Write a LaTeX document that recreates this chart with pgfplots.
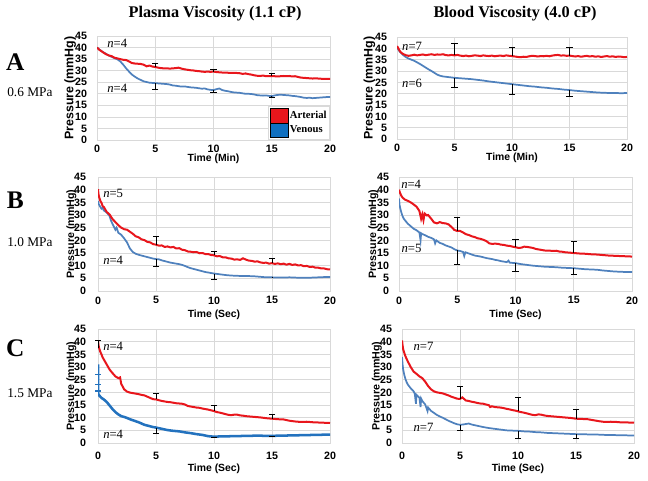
\documentclass[border=0pt]{standalone}
\usepackage{fontspec}
\setmainfont{Liberation Serif}
\setsansfont{Liberation Sans}
\usepackage{pgfplots}
\pgfplotsset{compat=1.18}
\definecolor{artred}{RGB}{232,22,28}
\definecolor{venblue}{RGB}{79,129,189}
\definecolor{venblue2}{RGB}{35,114,190}
\definecolor{legblue}{RGB}{16,112,192}
\definecolor{gridc}{RGB}{217,217,217}
\tikzset{nlab/.style={anchor=west, font=\fontsize{9.5}{10}\selectfont, inner sep=0pt}}
\pgfplotsset{
  panel/.style={
    scale only axis, anchor=south west,
    xmin=0, xmax=20, ymin=0, ymax=45,
    xtick={0,5,10,15,20}, ytick={0,5,...,45},
    grid=major, major grid style={gridc, line width=0.5pt},
    axis line style={gridc, line width=0.6pt},
    tick style={draw=none}, major tick length=0pt,
    /pgf/number format/assume math mode=true,
    ticklabel style={font=\sffamily\bfseries\fontsize{8}{9}\selectfont, text=black},
    yticklabel style={xshift=-4pt},
    ylabel={Pressure (mmHg)},
    ylabel style={at={(axis description cs:-0.115,0.5)}, anchor=center, rotate=0, font=\sffamily\bfseries\fontsize{8}{9}\selectfont},
    xlabel style={at={(axis description cs:0.5,0)}, anchor=center, font=\sffamily\bfseries\fontsize{7.8}{9}\selectfont},
  },
  art/.style={artred, line width=1.5pt, forget plot},
  ven/.style={venblue, line width=1.3pt, forget plot},
  ebbase/.style={black, line width=0.6pt, mark=none, draw opacity=0, forget plot},
  ebp/.style={ebbase,
    error bars/.cd, y dir=plus, y explicit, error mark=none,
    error bar style={draw=black, draw opacity=1, line width=0.6pt, solid}},
  ebm/.style={ebbase,
    error bars/.cd, y dir=minus, y explicit, error mark=none,
    error bar style={draw=black, draw opacity=1, line width=0.6pt, solid}},
  caps/.style={only marks, mark=-, mark size=2.3pt, black, forget plot,
    mark options={line width=0.6pt, draw=black, solid}},
}
\newcommand{\nn}[1]{\textit{n}=#1}
\begin{document}
\begin{tikzpicture}
\path[use as bounding box] (0,0) rectangle (486pt,-360pt);

% ---------------- A left
\begin{axis}[panel, at={(72.75pt,-105pt)}, width=174.75pt, height=78pt,
  xlabel={Time (Min)}, xlabel style={yshift=-14.25pt},
  ylabel style={font=\sffamily\bfseries\fontsize{9.3}{10}\selectfont},
  legend style={at={(rel axis cs:1,0)}, anchor=south east, draw=gridc, fill=white,
    font=\bfseries\fontsize{8}{9}\selectfont, inner sep=1.5pt, row sep=0pt,
    nodes={inner sep=0.8pt}},
  legend cell align=left,
  legend image code/.code={\fill[#1] (0pt,-5.3pt) rectangle (13.5pt,5.3pt);}]
\addplot[ven] coordinates {(0,40.0)(0.1,39.6)(0.2,39.2)(0.3,38.8)(0.5,38.1)(0.75,37.4)(1,36.6)(1.25,36.0)(1.5,35.4)(1.75,34.9)(2,34.0)(2.25,32.6)(2.5,31.0)(2.75,29.6)(3,28.3)(3.25,27.4)(3.5,26.6)(3.75,26.0)(4,25.4)(4.25,25.1)(4.5,24.8)(4.75,24.7)(5,24.6)(5.25,24.5)(5.5,24.4)(5.75,24.3)(6,24.2)(6.25,24.0)(6.5,23.6)(6.75,23.5)(7,23.3)(7.25,23.1)(7.5,23.2)(7.75,23.0)(8,22.8)(8.25,22.7)(8.5,22.6)(8.75,22.4)(9,22.2)(9.25,22.3)(9.5,21.9)(9.75,21.7)(10,21.6)(10.25,22.0)(10.5,22.3)(10.75,21.6)(11,21.3)(11.25,21.1)(11.5,20.8)(11.75,20.6)(12,20.5)(12.25,20.4)(12.5,20.2)(12.75,20.0)(13,20.0)(13.25,19.9)(13.5,19.7)(13.75,19.4)(14,19.3)(14.25,19.2)(14.5,19.3)(14.75,19.1)(15,19.0)(15.25,19.3)(15.5,19.5)(15.75,19.6)(16,19.5)(16.25,19.4)(16.5,19.3)(16.75,19.1)(17,19.0)(17.25,18.8)(17.5,18.6)(17.75,18.3)(18,18.2)(18.25,18.3)(18.5,18.1)(18.75,18.2)(19,18.3)(19.25,18.4)(19.5,18.5)(19.75,18.6)(20,18.6)};
\addplot[art] coordinates {(0,40.0)(0.1,39.5)(0.2,39.0)(0.3,38.7)(0.5,38.0)(0.75,37.2)(1,36.6)(1.25,36.3)(1.5,35.6)(1.75,35.3)(2,35.0)(2.25,34.7)(2.5,34.6)(2.75,34.0)(3,33.3)(3.25,33.1)(3.5,33.0)(3.75,32.9)(4,32.6)(4.25,31.9)(4.5,32.2)(4.75,31.8)(5,31.6)(5.25,31.3)(5.5,31.1)(5.75,31.0)(6,31.0)(6.25,30.9)(6.5,31.0)(6.75,31.1)(7,31.3)(7.25,30.9)(7.5,30.6)(7.75,30.4)(8,30.2)(8.25,30.1)(8.5,29.9)(8.75,29.8)(9,29.6)(9.25,29.5)(9.5,29.6)(9.75,29.5)(10,29.6)(10.25,29.4)(10.5,29.3)(10.75,29.2)(11,29.2)(11.25,29.1)(11.5,29.0)(11.75,29.1)(12,29.0)(12.25,28.9)(12.5,28.6)(12.75,28.8)(13,28.5)(13.25,28.3)(13.5,28.0)(13.75,27.8)(14,27.7)(14.25,27.9)(14.5,27.6)(14.75,27.6)(15,27.7)(15.25,27.6)(15.5,27.5)(15.75,27.6)(16,27.7)(16.25,27.6)(16.5,27.7)(16.75,27.5)(17,27.6)(17.25,27.3)(17.5,27.0)(17.75,26.9)(18,26.8)(18.25,26.7)(18.5,26.6)(18.75,26.7)(19,26.6)(19.25,26.5)(19.5,26.5)(19.75,26.4)(20,26.4)};
\addplot[ebp] coordinates {(5,31.6) +- (0,1.4) (10,29.6) +- (0,0.9) (15,27.7) +- (0,1.3)};
\addplot[ebm] coordinates {(5,24.6) +- (0,2.8) (10,21.6) +- (0,0.9) (15,19.0) +- (0,0.5)};
\addplot[caps] coordinates {(5,33.0)(10,30.5)(15,29.0)(5,21.8)(10,20.7)(15,18.5)};
\addlegendimage{fill=artred}\addlegendentry{Arterial}
\addlegendimage{fill=legblue}\addlegendentry{Venous}
\node[nlab] at (axis cs:0.86,42) {\nn{4}};
\node[nlab] at (axis cs:0.86,22.5) {\nn{4}};
\end{axis}

% ---------------- A right
\begin{axis}[panel, at={(297.75pt,-104.25pt)}, width=172.5pt, height=76.5pt,
  xlabel={Time (Min)}, xlabel style={yshift=-14.25pt},
  ylabel style={font=\sffamily\bfseries\fontsize{9.3}{10}\selectfont, at={(axis description cs:-0.12,0.5)}}]
\addplot[ven] coordinates {(0,40.5)(0.1,39.6)(0.2,38.8)(0.3,38.2)(0.5,37.2)(0.75,36.2)(1,35.5)(1.25,35)(1.5,34.5)(1.75,33.8)(2,33.1)(2.25,32.3)(2.5,31.5)(2.75,30.7)(3,30)(3.25,29.2)(3.5,28.4)(3.75,27.9)(4,27.6)(4.5,27.3)(5,27)(5.5,26.8)(6,26.6)(6.5,26.4)(7,26.1)(7.5,25.8)(8,25.4)(8.5,25.1)(9,24.8)(9.5,24.5)(10,24.2)(10.5,23.9)(11,23.6)(11.5,23.3)(12,23.1)(12.5,22.8)(13,22.6)(13.5,22.3)(14,22.1)(14.5,21.8)(15,21.6)(15.5,21.3)(16,21.1)(16.5,20.9)(17,20.7)(17.5,20.5)(18,20.4)(18.5,20.3)(19,20.3)(19.5,20.2)(20,20.3)};
\addplot[art] coordinates {(0,41)(0.1,40.2)(0.2,39.2)(0.3,38.4)(0.5,37.6)(0.75,37)(1,36.7)(1.25,36.9)(1.5,37.2)(1.75,36.9)(2,37.1)(2.25,37.3)(2.5,37)(2.75,37.2)(3,37.4)(3.25,37.1)(3.5,37.3)(3.75,37.2)(4,37.4)(4.25,37)(4.5,36.9)(4.75,37.1)(5,36.9)(5.25,37.1)(5.5,36.8)(5.75,36.6)(6,36.8)(6.25,36.5)(6.5,36.7)(6.75,36.9)(7,36.8)(7.25,36.6)(7.5,36.9)(7.75,36.7)(8,36.6)(8.25,36.8)(8.5,36.5)(8.75,36.7)(9,36.8)(9.25,36.6)(9.5,36.9)(9.75,36.7)(10,36.6)(10.25,36.4)(10.5,36.2)(10.75,36.1)(11,36.3)(11.25,36.2)(11.5,36.5)(11.75,36.7)(12,36.6)(12.25,36.4)(12.5,36.6)(12.75,36.5)(13,36.7)(13.25,36.5)(13.5,36.8)(13.75,37)(14,37.1)(14.25,36.8)(14.5,36.9)(14.75,36.7)(15,36.8)(15.25,36.6)(15.5,36.4)(15.75,36.6)(16,36.3)(16.25,36.5)(16.5,36.7)(16.75,36.4)(17,36.6)(17.25,36.3)(17.5,36.5)(17.75,36.2)(18,36.4)(18.25,36.6)(18.5,36.3)(18.75,36.5)(19,36.2)(19.25,36.4)(19.5,36.3)(19.75,36.1)(20,36.2)};
\addplot[ebp] coordinates {(5,36.9) +- (0,5.2) (10,36.6) +- (0,3.8) (15,36.8) +- (0,3.6)};
\addplot[ebm] coordinates {(5,27.0) +- (0,4.2) (10,24.2) +- (0,4.3) (15,21.6) +- (0,2.9)};
\addplot[caps] coordinates {(5,42.1)(10,40.4)(15,40.4)(5,22.8)(10,19.9)(15,18.7)};
\node[nlab] at (axis cs:0.43,40.7) {\nn{7}};
\node[nlab] at (axis cs:0.43,24.6) {\nn{6}};
\end{axis}

% ---------------- B left
\begin{axis}[panel, at={(73.5pt,-218.25pt)}, width=174pt, height=85.5pt,
  xlabel={Time (Sec)}, xlabel style={yshift=-18pt},
  xticklabel style={yshift=-0.7pt}, yticklabel style={xshift=-1.5pt}]
\addplot[ven] coordinates {(0,35.5)(0.05,34.5)(0.1,34)(0.2,33.2)(0.3,32.5)(0.4,32.8)(0.5,31.8)(0.75,31)(1,29.6)(1.1,28)(1.25,26.5)(1.5,24.2)(1.6,25)(1.75,23)(2,22.2)(2.25,20.8)(2.5,19.2)(2.75,16.8)(3,15.4)(3.25,14.7)(3.5,14.3)(3.75,14)(4,13.7)(4.25,13.4)(4.5,13.1)(4.75,12.8)(5,12.6)(5.25,12.5)(5.5,12.1)(5.75,11.8)(6,11.5)(6.25,11.2)(6.5,11)(6.75,10.8)(7,10.6)(7.25,10.3)(7.5,9.9)(7.75,9.4)(8,9)(8.25,8.7)(8.5,8.4)(8.75,8.1)(9,7.8)(9.25,7.5)(9.5,7.3)(9.75,7.1)(10,6.9)(10.5,6.6)(11,6.3)(11.5,6.1)(12,6)(12.5,5.9)(13,5.9)(13.5,5.8)(14,5.6)(14.5,5.4)(15,5.4)(15.5,5.3)(16,5.3)(16.5,5.4)(17,5.3)(17.5,5.2)(18,5.2)(18.5,5.3)(19,5.4)(19.5,5.5)(20,5.5)};
\addplot[art] coordinates {(0,40.2)(0.05,38)(0.1,37)(0.2,35.6)(0.3,34.8)(0.4,33.5)(0.5,33.2)(0.75,31.2)(1,30.2)(1.25,28.4)(1.5,27.2)(1.75,26)(2,25)(2.25,24.4)(2.5,24.2)(2.75,23.4)(3,22.6)(3.25,21.6)(3.5,21.2)(3.75,20.4)(4,20.1)(4.25,19.4)(4.5,19.2)(4.75,18.5)(5,18.3)(5.25,17.9)(5.5,18)(5.75,17.4)(6,17.6)(6.25,17.2)(6.5,17.4)(6.75,16.8)(7,16.9)(7.25,16.3)(7.5,16.1)(7.75,15.6)(8,15.5)(8.25,15.3)(8.5,15.4)(8.75,14.9)(9,15)(9.25,14.6)(9.5,14.6)(9.75,14.2)(10,14.1)(10.25,13.7)(10.5,13.8)(10.75,13.3)(11,13.3)(11.25,12.9)(11.5,12.8)(11.75,12.4)(12,12.5)(12.25,12.3)(12.5,12.9)(12.75,12.4)(13,12)(13.25,11.9)(13.5,11.6)(13.75,11.7)(14,11.3)(14.25,11.1)(14.5,11.2)(14.75,10.8)(15,11)(15.25,10.7)(15.5,10.9)(15.75,10.6)(16,10.8)(16.25,10.4)(16.5,10.7)(16.75,10.3)(17,10.5)(17.25,10.1)(17.5,10.2)(17.75,9.8)(18,9.9)(18.25,9.5)(18.5,9.6)(18.75,9.2)(19,9.2)(19.25,8.9)(19.5,8.9)(19.75,8.6)(20,8.5)};
\addplot[ebp] coordinates {(5,18.3) +- (0,3.4) (10,14.1) +- (0,1.6) (15,11.0) +- (0,1.7)};
\addplot[ebm] coordinates {(5,12.6) +- (0,2.8) (10,6.9) +- (0,2.2) (15,5.4) +- (0,0.2)};
\addplot[caps] coordinates {(5,21.7)(10,15.7)(15,12.7)(5,9.8)(10,4.7)};
\node[nlab] at (axis cs:0.43,38.6) {\nn{5}};
\node[nlab] at (axis cs:0.43,12.2) {\nn{4}};
\end{axis}

% ---------------- B right
\begin{axis}[panel, at={(299.25pt,-218.25pt)}, width=174.75pt, height=85.5pt,
  xlabel={Time (Sec)}, xlabel style={yshift=-18pt},
  xticklabel style={yshift=-0.7pt}, ylabel style={at={(axis description cs:-0.11,0.5)}}]
\addplot[ven] coordinates {(0,36.5)(0.05,34)(0.1,32.8)(0.2,31)(0.3,29.6)(0.4,28.6)(0.5,28)(0.75,26.6)(1,25.6)(1.25,24.6)(1.5,24)(1.75,23.1)(1.85,20)(1.9,22.8)(2,22.5)(2.25,22)(2.5,21.4)(2.75,21)(3,20.4)(3.1,18.8)(3.2,20)(3.5,19)(3.75,18.6)(4,18)(4.25,17.6)(4.5,17.2)(4.75,16.5)(5,16)(5.25,15.8)(5.5,15.4)(5.6,13.8)(5.7,15.3)(6,14.8)(6.25,14.4)(6.5,14)(6.75,13.8)(7,13.6)(7.25,13.3)(7.5,13)(7.75,12.8)(8,12.6)(8.25,12.3)(8.5,12.1)(8.75,11.8)(9,11.6)(9.25,11.4)(9.4,12)(9.5,11.2)(9.75,11.1)(10,11)(10.5,10.6)(11,10.3)(11.5,10)(12,9.8)(12.5,9.6)(13,9.5)(13.5,9.4)(14,9.2)(14.5,9.1)(15,9)(15.5,8.8)(16,8.6)(16.5,8.5)(17,8.4)(17.5,8.1)(18,7.9)(18.5,7.7)(19,7.6)(19.5,7.5)(20,7.5)};
\addplot[art] coordinates {(0,40)(0.1,38.6)(0.2,37.6)(0.3,36.9)(0.5,36.1)(0.75,35.6)(1,35)(1.25,34.2)(1.5,33.3)(1.75,31.6)(1.9,28.5)(2,30.2)(2.1,28)(2.2,30.6)(2.4,29.8)(2.5,30)(2.75,28.6)(3,27.1)(3.25,26.7)(3.5,27.2)(3.75,26.8)(4,26.7)(4.25,26.3)(4.5,25.3)(4.75,24.1)(5,23.7)(5.25,23.7)(5.5,23.1)(5.75,22.4)(6,22.1)(6.25,21.6)(6.5,21.3)(6.75,20.8)(7,20.6)(7.25,20.2)(7.5,19.7)(7.75,18.8)(8,18.6)(8.25,18.7)(8.5,18.6)(8.75,18.3)(9,18.2)(9.25,17.9)(9.5,17.8)(9.75,17.5)(10,17.3)(10.25,17)(10.5,17.1)(10.75,17.5)(11,17.4)(11.25,17.2)(11.5,17)(11.75,16.6)(12,16.4)(12.25,16.2)(12.5,16)(12.75,15.9)(13,15.9)(13.25,15.8)(13.5,15.9)(13.75,15.6)(14,15.5)(14.25,15.3)(14.5,15.2)(14.75,15.1)(15,15)(15.5,14.8)(16,14.7)(16.5,14.5)(17,14.4)(17.5,14.2)(18,14)(18.5,13.9)(19,13.8)(19.5,13.7)(20,13.6)};
\addplot[ebp] coordinates {(5,23.7) +- (0,5.5) (10,17.3) +- (0,3.1) (15,15.0) +- (0,4.6)};
\addplot[ebm] coordinates {(5,16.0) +- (0,5.5) (10,11.0) +- (0,3.4) (15,9.0) +- (0,2.4)};
\addplot[caps] coordinates {(5,29.2)(10,20.4)(15,19.6)(5,10.5)(10,7.6)(15,6.6)};
\node[nlab] at (axis cs:0.17,42.2) {\nn{4}};
\node[nlab] at (axis cs:0.2,16.9) {\nn{5}};
\end{axis}

% ---------------- C left
\begin{axis}[panel, at={(73.5pt,-332.25pt)}, width=174pt, height=85.5pt,
  xlabel={Time (Sec)}, xlabel style={yshift=-19.5pt},
  xticklabel style={yshift=-3.5pt}, yticklabel style={xshift=-1.5pt}]
\addplot[venblue2, line width=1.9pt, forget plot] coordinates {(0,31)(0.02,19.5)(0.1,18.8)(0.2,18.3)(0.3,17.8)(0.5,17.2)(0.75,16.2)(1,14.8)(1.25,13.4)(1.5,12.2)(1.75,11.3)(2,10.6)(2.25,10.3)(2.5,9.9)(2.75,9.4)(3,9)(3.25,8.6)(3.5,8.2)(3.75,7.7)(4,7.2)(4.25,6.9)(4.5,6.6)(4.75,6.3)(5,6.1)(5.5,5.6)(6,5.1)(6.5,4.8)(7,4.6)(7.5,4.2)(8,3.9)(8.5,3.5)(9,3.2)(9.5,2.7)(10,2.5)(10.5,2.6)(11,2.6)(11.5,2.7)(12,2.7)(12.5,2.8)(13,2.8)(13.5,2.9)(14,2.9)(14.5,2.8)(15,2.8)(15.5,2.9)(16,2.9)(16.5,3)(17,3)(17.5,3.1)(18,3.1)(18.5,3.2)(19,3.2)(19.5,3.3)(20,3.3)};
\addplot[only marks, mark=-, mark size=2.2pt, venblue2, forget plot, mark options={line width=0.9pt, solid}] coordinates {(0,27)(0,23)(0,20.5)};
\addplot[art] coordinates {(0,40.5)(0.05,38.5)(0.1,37.4)(0.2,36)(0.3,35)(0.4,33.8)(0.5,33)(0.75,31)(1,29)(1.25,27.6)(1.5,26.3)(1.75,25.6)(1.9,25.9)(2,23.4)(2.25,21.2)(2.5,20.3)(2.75,19.9)(3,19.7)(3.25,19.5)(3.5,19.3)(3.75,19)(4,18.8)(4.25,18.3)(4.5,17.8)(4.75,17.3)(5,17.2)(5.25,16.9)(5.5,16.6)(5.75,16.4)(6,16.2)(6.25,16.1)(6.5,15.9)(6.75,15.7)(7,15.6)(7.25,15.5)(7.5,15.2)(7.75,14.6)(8,14.4)(8.25,14.2)(8.5,14)(8.75,13.9)(9,13.6)(9.25,13.4)(9.5,13.2)(9.75,12.9)(10,12.6)(10.25,12.2)(10.5,12)(10.75,11.7)(11,11.4)(11.25,11.1)(11.5,11)(11.75,11.2)(12,11.2)(12.25,10.9)(12.5,10.8)(12.75,10.6)(13,10.5)(13.5,10.3)(14,10.1)(14.5,9.8)(15,9.6)(15.5,9.4)(16,9.3)(16.5,8.8)(17,8.5)(17.5,8.3)(18,8.4)(18.5,8.2)(19,8.1)(19.5,8)(20,7.9)};
\addplot[ebp] coordinates {(0,37.5) +- (0,3) (5,17.2) +- (0,2.3) (10,12.6) +- (0,2.1) (15,9.6) +- (0,1.6)};
\addplot[ebm] coordinates {(5,6.1) +- (0,2.2) (10,2.5) +- (0,0.3) (15,2.8) +- (0,0.3)};
\addplot[caps] coordinates {(0,40.5)(5,19.5)(10,14.7)(15,11.2)(5,3.9)(10,2.2)(15,2.5)};
\node[nlab] at (axis cs:0.43,38) {\nn{4}};
\node[nlab] at (axis cs:0.43,3.6) {\nn{4}};
\end{axis}

% ---------------- C right
\begin{axis}[panel, at={(301.5pt,-332.25pt)}, width=174pt, height=85.5pt,
  xlabel={Time (Sec)}, xlabel style={yshift=-19.5pt},
  xticklabel style={yshift=-3.5pt}, ylabel style={at={(axis description cs:-0.108,0.5)}}]
\addplot[ven] coordinates {(0,34)(0.05,31)(0.1,29)(0.2,26.8)(0.3,25.2)(0.4,24)(0.5,23.1)(0.75,21.6)(1,20.4)(1.1,19.5)(1.2,15.5)(1.25,19)(1.5,17.9)(1.6,14.2)(1.65,17.5)(1.75,16.6)(2,15.2)(2.2,12.6)(2.25,14)(2.5,12.7)(2.75,11.9)(3,11.1)(3.25,10.5)(3.5,10)(3.75,9.4)(4,8.8)(4.25,8.3)(4.5,7.8)(4.75,7.4)(5,7.2)(5.25,7.3)(5.5,7.5)(5.75,7.7)(6,7.3)(6.5,6.8)(7,6.3)(7.5,5.9)(8,5.6)(8.5,5.3)(9,5)(9.5,4.9)(10,4.8)(10.5,4.6)(11,4.5)(11.5,4.3)(12,4.2)(12.5,4)(13,3.9)(13.5,3.8)(14,3.7)(14.5,3.6)(15,3.5)(15.5,3.5)(16,3.4)(16.5,3.4)(17,3.3)(17.5,3.2)(18,3.2)(18.5,3.1)(19,3.1)(19.5,3)(20,3)};
\addplot[art] coordinates {(0,40.5)(0.05,38.5)(0.1,37)(0.2,35.5)(0.3,34.2)(0.4,33.2)(0.5,32.2)(0.75,30)(1,28.2)(1.25,27.3)(1.5,26.3)(1.75,25.6)(2,24.2)(2.25,22.5)(2.5,21.2)(2.75,20.4)(3,20)(3.25,19.8)(3.5,19.6)(3.75,19.2)(4,18.8)(4.25,18.3)(4.5,17.9)(4.75,17.5)(5,17.4)(5.2,18)(5.4,17.2)(5.5,16.8)(5.75,16.6)(6,16.3)(6.25,16.1)(6.5,15.8)(6.75,15.6)(7,15.5)(7.25,15.2)(7.5,14.9)(7.6,14.2)(7.75,14.5)(8,14.2)(8.25,14.1)(8.5,14)(8.75,13.8)(9,13.5)(9.25,13.3)(9.5,13)(9.75,12.8)(10,12.5)(10.25,12.2)(10.5,12)(10.75,11.7)(11,11.4)(11.25,11.1)(11.5,11)(11.75,11.3)(12,11.2)(12.25,10.9)(12.5,10.7)(12.75,10.6)(13,10.5)(13.5,10.3)(14,10.1)(14.5,9.9)(15,9.6)(15.5,9.5)(16,9.4)(16.5,9)(17,8.6)(17.5,8.3)(18,8.4)(18.5,8.3)(19,8.1)(19.5,8.1)(20,8)};
\addplot[ebp] coordinates {(5,17.4) +- (0,5.0) (10,12.5) +- (0,5.7) (15,9.6) +- (0,3.8)};
\addplot[ebm] coordinates {(5,7.2) +- (0,2.3) (10,4.8) +- (0,2.8) (15,3.5) +- (0,1.8)};
\addplot[caps] coordinates {(5,22.4)(10,18.2)(15,13.4)(5,4.9)(10,2.0)(15,1.7)};
\node[nlab] at (axis cs:0.97,38) {\nn{7}};
\node[nlab] at (axis cs:0.97,6.2) {\nn{7}};
\end{axis}

% ---------------- outer texts
\node[font=\bfseries\fontsize{12.2}{14}\selectfont] at (161.25pt,-10.5pt) {Plasma Viscosity (1.1 cP)};
\node[font=\bfseries\fontsize{12.2}{14}\selectfont] at (386.25pt,-10.5pt) {Blood Viscosity (4.0 cP)};
\node[font=\bfseries\fontsize{19}{20}\selectfont] at (11.5pt,-46.5pt) {A};
\node[font=\bfseries\fontsize{19}{20}\selectfont] at (11.5pt,-150pt) {B};
\node[font=\bfseries\fontsize{19}{20}\selectfont] at (11.5pt,-261pt) {C};
\node[anchor=west, inner sep=0pt, font=\fontsize{10}{11}\selectfont] at (5.25pt,-69pt) {0.6 MPa};
\node[anchor=west, inner sep=0pt, font=\fontsize{10}{11}\selectfont] at (5.25pt,-181.5pt) {1.0 MPa};
\node[anchor=west, inner sep=0pt, font=\fontsize{10}{11}\selectfont] at (5.25pt,-294.75pt) {1.5 MPa};
\end{tikzpicture}
\end{document}
